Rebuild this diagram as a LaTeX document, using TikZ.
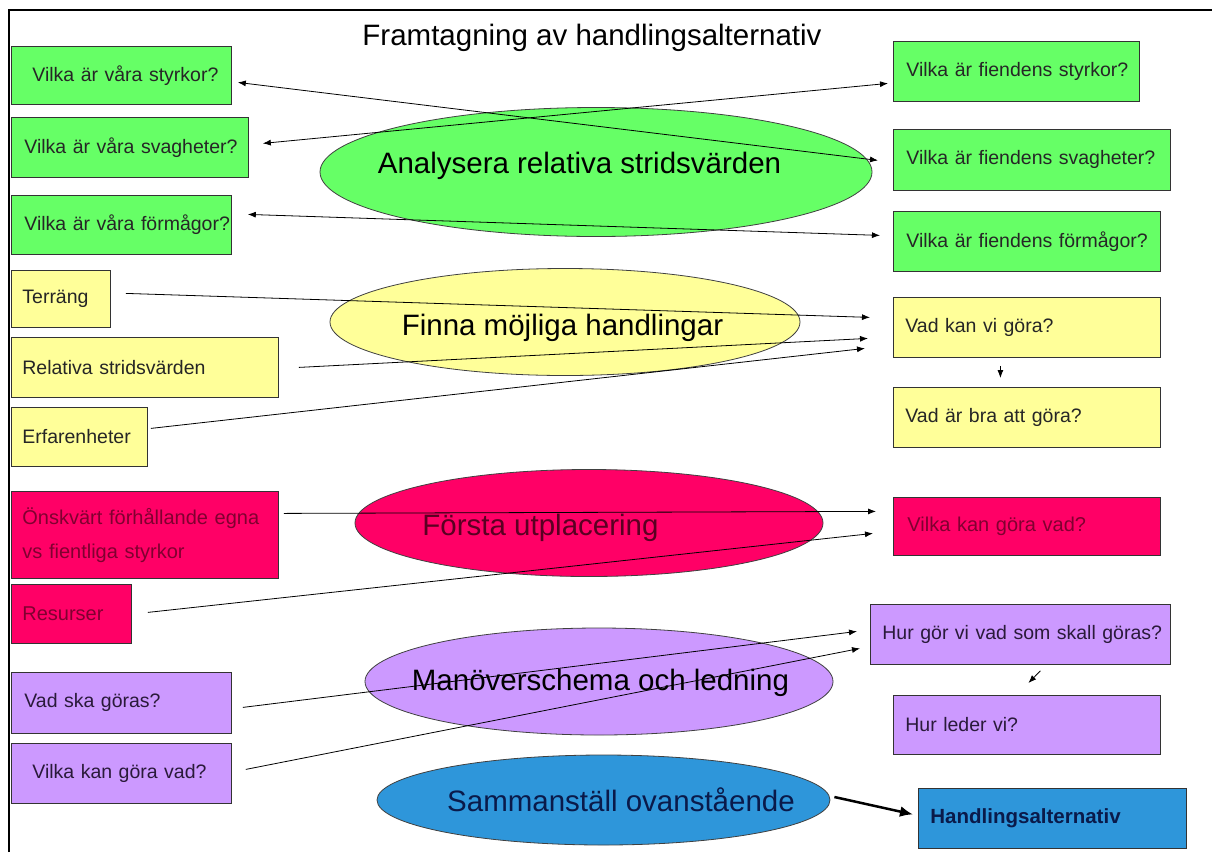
\documentclass[tikz,border=0pt]{standalone}
\usepackage{fontspec}
\setmainfont{Liberation Sans}
\usetikzlibrary{shapes.geometric,arrows.meta,calc}
\definecolor{cg}{HTML}{66FF66}
\definecolor{cy}{HTML}{FFFF99}
\definecolor{cr}{HTML}{FF0066}
\definecolor{cp}{HTML}{CC99FF}
\definecolor{cb}{HTML}{2E96DA}
\definecolor{tr}{HTML}{800030}
\definecolor{tp}{HTML}{2A1A3A}
\definecolor{tb}{HTML}{0A1A4A}
\newcommand\bxt[2]{\hspace*{#1pt}\mbox{#2}}
\begin{document}
\begin{tikzpicture}[x=1pt,y=-1pt,
  box/.style={draw=black!80, line width=0.8pt, anchor=north west, inner xsep=0pt, inner ysep=0pt, align=left, text=black!85, font=\fontsize{19.5}{23}\selectfont},
  ell/.style={ellipse, draw=black!75, line width=0.8pt, inner sep=0pt},
  elabel/.style={font=\fontsize{29.5}{34}\selectfont, inner sep=0pt},
  conn/.style={line width=0.8pt, -{Latex[length=8pt,width=6pt]}},
  dconn/.style={line width=0.8pt, {Latex[length=8pt,width=6pt]}-{Latex[length=8pt,width=6pt]}},
  bigconn/.style={line width=2.5pt, -{Latex[length=13pt,width=11pt]}}
]
\useasboundingbox (0,0) rectangle (1212,852);
\fill[white] (0,0) rectangle (1212,852);
\draw[line width=2pt] (9,852) -- (9,10) -- (1212,10);

\node[font=\fontsize{29.5}{34}\selectfont] (title) at (592,38) {Framtagning av handlingsalternativ};

% ellipses
\node[ell, fill=cg, minimum width=552pt, minimum height=129pt,
  label={[elabel, xshift=-16.5pt, yshift=6pt]center:Analysera relativa stridsvärden}] (e1) at (596,172) {};
\node[ell, fill=cy, minimum width=470pt, minimum height=107pt,
  label={[elabel, xshift=-2.5pt, yshift=-6pt]center:Finna möjliga handlingar}] (e2) at (565,322) {};
\node[ell, fill=cr, minimum width=468pt, minimum height=107pt,
  label={[elabel, text=tr!70!black, xshift=-48.5pt, yshift=-5pt]center:Första utplacering}] (e3) at (589,523) {};
\node[ell, fill=cp, minimum width=468pt, minimum height=107pt,
  label={[elabel, xshift=1.5pt, yshift=-1.5pt]center:Manöverschema och ledning}] (e4) at (599,681.5) {};
\node[ell, fill=cb, minimum width=453pt, minimum height=90pt,
  label={[elabel, text=tb, xshift=17.5pt]center:Sammanställ ovanstående}] (e5) at (603.5,800) {};

% green boxes
\node[box, fill=cg, text width=220pt, minimum height=58pt] (vs) at (11,46) {\bxt{21}{Vilka är våra styrkor?}};
\node[box, fill=cg, text width=237pt, minimum height=60pt] (vsv) at (11,117) {\bxt{13}{Vilka är våra svagheter?}};
\node[box, fill=cg, text width=220pt, minimum height=59pt] (vf) at (11,195) {\bxt{13}{Vilka är våra förmågor?}};
\node[box, fill=cg, text width=246pt, minimum height=60pt] (fs) at (893,41) {\bxt{13}{Vilka är fiendens styrkor?}};
\node[box, fill=cg, text width=277pt, minimum height=61pt] (fsv) at (893,129) {\bxt{13}{Vilka är fiendens svagheter?}};
\node[box, fill=cg, text width=267pt, minimum height=60pt] (ff) at (893,211) {\bxt{13}{Vilka är fiendens förmågor?}};

% yellow boxes
\node[box, fill=cy, text width=99pt, minimum height=57pt] (ter) at (11,270) {\bxt{11}{Terräng}};
\node[box, fill=cy, text width=267pt, minimum height=60pt] (rel) at (11,337) {\bxt{11}{Relativa stridsvärden}};
\node[box, fill=cy, text width=136pt, minimum height=59pt] (erf) at (11,407) {\bxt{11}{Erfarenheter}};
\node[box, fill=cy, text width=267pt, minimum height=60pt] (vk) at (893,297) {\bxt{12}{Vad kan vi göra?}};
\node[box, fill=cy, text width=267pt, minimum height=60pt] (vb) at (893,387) {\bxt{12}{Vad är bra att göra?}};

% red boxes
\node[box, fill=cr, text=tr, text width=267pt, minimum height=87pt, font=\fontsize{20}{34}\selectfont] (ons) at (11,491) {\bxt{11}{Önskvärt förhållande egna}\\\bxt{11}{vs fientliga styrkor}};
\node[box, fill=cr, text=tr, text width=120pt, minimum height=59pt, font=\fontsize{20}{23}\selectfont] (res) at (11,584) {\bxt{11}{Resurser}};
\node[box, fill=cr, text=tr, text width=267pt, minimum height=58pt, font=\fontsize{20}{23}\selectfont] (vkg) at (893,497) {\bxt{14}{Vilka kan göra vad?}};

% purple boxes
\node[box, fill=cp, text=tp, text width=300pt, minimum height=60pt] (hg) at (870,604) {\bxt{12}{Hur gör vi vad som skall göras?}};
\node[box, fill=cp, text=tp, text width=267pt, minimum height=59pt] (hl) at (893,695) {\bxt{12}{Hur leder vi?}};
\node[box, fill=cp, text=tp, text width=220pt, minimum height=61pt] (vsg) at (11,672) {\bxt{13}{Vad ska göras?}};
\node[box, fill=cp, text=tp, text width=220pt, minimum height=60pt] (vkv) at (11,743) {\bxt{21}{Vilka kan göra vad?}};

% blue box
\node[box, fill=cb, text=tb, text width=268pt, minimum height=60pt, font=\fontsize{20.5}{24}\selectfont\bfseries] (ha) at (918,788) {\bxt{12}{Handlingsalternativ}};

% connectors
\draw[dconn] ($(vs.east)+(6,7)$) -- ($(fsv.west)+(-15,0.5)$);
\draw[dconn] ($(vsv.east)+(14,-4)$) -- ($(fs.west)+(-5,12)$);
\draw[dconn] ($(vf.east)+(16,-10.5)$) -- ($(ff.west)+(-13,-6)$);

\draw[conn] ($(ter.east)+(15,-5.5)$) -- ($(vk.west)+(-23,-10)$);
\draw[conn] ($(rel.east)+(20,0)$) -- ($(vk.west)+(-25,11)$);
\draw[conn] ($(erf.east)+(3,-8.5)$) -- ($(vk.west)+(-28,21)$);
\draw[conn] ($(vk.south)+(-26.5,8)$) -- ($(vb.north)+(-26.5,-9)$);

\draw[conn] ($(ons.east)+(5,-21.5)$) -- ($(vkg.west)+(-17,-15)$);
\draw[conn] ($(res.east)+(16,-1.5)$) -- ($(vkg.west)+(-20,7)$);

\draw[conn] ($(vsg.east)+(11,4.5)$) -- ($(hg.west)+(-13,-3)$);
\draw[conn] ($(vkv.east)+(14,-4)$) -- ($(hg.west)+(-10,14)$);
\draw[conn] ($(hg.south)+(20,6)$) -- ($(hl.north)+(1.5,-12)$);

\draw[bigconn] ($(e5.east)+(4,-3)$) -- ($(ha.west)+(-5,-4)$);
\end{tikzpicture}
\end{document}
